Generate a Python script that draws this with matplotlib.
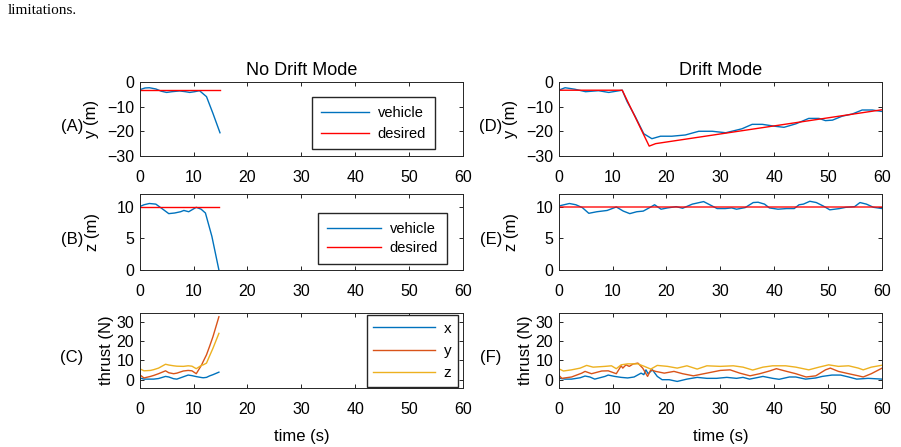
import numpy as np
import matplotlib
matplotlib.use('Agg')
import matplotlib.pyplot as plt

plt.rcParams['font.family'] = ['Liberation Sans', 'DejaVu Sans']
plt.rcParams['font.size'] = 11

c_blue = '#0072BD'
c_red = '#D95319'
c_yel = '#EDB120'

# ---- no drift mode ----
tA = [0, 1.0, 1.8, 3.0, 4.0, 5.0, 6.0, 7.4, 8.5, 9.3, 10.2, 11.1, 12.4, 13.6, 14.9]
yA = [-3.2, -2.5, -2.4, -2.9, -3.8, -4.3, -4.0, -3.7, -4.0, -4.3, -4.0, -3.6, -6.0, -12.8, -20.6]
tA_des = [0, 14.9]
yA_des = [-3.5, -3.5]

tB = [0, 0.8, 1.8, 3.0, 3.9, 5.4, 6.5, 7.6, 8.2, 9.1, 10.5, 11.4, 12.2, 13.4, 14.7]
zB = [10.0, 10.3, 10.5, 10.4, 9.85, 8.9, 9.0, 9.2, 9.4, 9.2, 9.9, 9.6, 9.0, 5.3, 0.0]
tB_des = [0, 14.7]
zB_des = [10.0, 10.0]

tC = [0, 0.8, 2.0, 2.6, 3.5, 4.8, 5.4, 6.3, 6.9, 8.1, 9.0, 9.7, 10.5, 11.5, 11.8, 12.4, 13.0, 13.6, 14.7]
thC_x = [0.9, 0.3, 0.3, 0.3, 0.6, 1.7, 1.4, 0.5, 0.3, 1.5, 2.4, 2.1, 1.6, 1.1, 1.0, 1.2, 2.0, 2.6, 3.9]
thC_y = [2.6, 0.9, 1.7, 2.2, 3.1, 4.6, 3.6, 3.1, 3.4, 4.5, 4.8, 4.6, 3.1, 7.7, 9.5, 12.9, 17.5, 22.3, 32.6]
thC_z = [5.7, 4.6, 4.8, 5.2, 6.0, 8.0, 7.6, 7.2, 7.0, 6.9, 7.2, 7.0, 5.7, 7.5, 7.7, 8.6, 12.5, 16.3, 24.0]

# ---- drift mode ----
tD = [0, 1.2, 3.0, 5.0, 7.4, 9.3, 11.8, 12.7, 14.2, 15.8, 17.3, 18.9, 21.0, 23.5, 26.0, 28.5,
      31.0, 34.0, 35.9, 37.8, 40.2, 41.8, 44.0, 46.4, 48.3, 49.5, 50.8, 52.6, 54.5, 56.3, 58.2, 60.0]
yD = [-3.4, -2.4, -3.0, -4.0, -3.6, -4.3, -3.4, -8.0, -14.0, -21.0, -23.0, -22.0, -22.0, -21.5,
      -20.0, -20.0, -20.6, -19.0, -17.2, -17.2, -18.0, -18.4, -17.0, -14.8, -14.8, -15.7, -15.5,
      -13.9, -13.0, -11.4, -11.4, -12.0]
tD_des = [0, 11.8, 16.8, 18.0, 60.0]
yD_des = [-3.4, -3.4, -26.0, -25.0, -11.3]

tE = [0, 2.0, 3.2, 4.4, 5.6, 7.1, 9.0, 10.7, 12.0, 13.2, 14.5, 15.7, 17.2, 17.8, 19.0, 20.2,
      21.8, 23.0, 24.8, 26.9, 28.5, 29.4, 30.9, 32.1, 33.0, 34.6, 36.1, 37.0, 38.2, 39.1, 40.7,
      42.3, 43.7, 44.6, 45.4, 46.6, 47.8, 49.1, 50.3, 52.1, 53.3, 54.9, 55.9, 57.1, 58.4, 60.0]
zE = [10.1, 10.5, 10.3, 9.85, 8.95, 9.2, 9.4, 9.95, 9.3, 8.9, 9.2, 9.3, 10.0, 10.3, 9.6, 9.8,
      10.0, 9.75, 10.4, 10.8, 10.1, 9.7, 9.7, 9.8, 9.6, 9.85, 10.65, 10.7, 10.4, 9.8, 9.6,
      9.7, 9.7, 10.3, 10.4, 10.85, 10.65, 10.1, 9.5, 9.7, 9.9, 10.0, 10.65, 10.4, 9.9, 9.7]
tE_des = [0, 60]
zE_des = [10.0, 10.0]

tF_x = [0, 1.2, 2.4, 4.0, 4.9, 5.8, 6.7, 8.6, 9.2, 10.4, 11.6, 12.8, 14.0, 15.3, 15.8, 16.2,
        16.6, 17.4, 18.3, 19.2, 20.5, 22.0, 23.8, 25.7, 27.5, 29.3, 31.2, 33.0, 34.2, 35.4,
        36.7, 37.9, 39.7, 40.9, 42.8, 44.0, 45.8, 47.7, 48.9, 50.7, 52.3, 53.8, 55.3, 57.4, 60.0]
thF_x = [0.8, 0.3, 0.3, 1.0, 1.9, 1.4, 0.3, 1.7, 2.4, 1.7, 1.2, 0.9, 1.4, 3.4, 2.6, 5.1,
         3.1, 5.1, 1.7, 0.0, 0.0, -0.9, 0.3, 1.2, 0.7, 0.7, 1.2, 0.7, 1.2, 0.3,
         1.0, 1.7, 0.7, 0.2, 1.4, 1.4, 0.3, 0.9, 1.7, 2.4, 2.4, 1.4, 0.3, 0.7, 0.3]
tF_y = [0, 0.6, 2.4, 4.3, 4.9, 6.1, 8.0, 9.2, 10.7, 11.6, 11.9, 12.5, 13.1, 13.8, 14.7, 15.6,
        16.5, 17.1, 18.0, 19.6, 21.4, 23.0, 25.0, 27.5, 30.0, 31.8, 33.6, 35.5, 37.3, 39.1,
        40.4, 42.3, 44.0, 45.9, 47.7, 49.5, 50.4, 51.9, 53.8, 55.6, 56.5, 58.0, 60.0]
thF_y = [2.4, 0.7, 1.4, 3.4, 4.3, 3.1, 4.5, 4.6, 3.1, 7.2, 6.0, 7.7, 6.9, 8.1, 8.6, 6.0,
         1.7, 5.1, 4.3, 3.4, 4.3, 3.1, 2.0, 3.4, 4.8, 5.1, 3.4, 2.0, 3.1, 4.5,
         5.7, 4.3, 3.1, 1.4, 2.0, 5.1, 6.0, 4.3, 3.1, 2.0, 1.4, 3.1, 6.0]
tF_z = [0, 0.9, 2.4, 4.0, 5.2, 6.4, 8.6, 9.8, 10.7, 11.6, 12.8, 14.7, 15.9, 17.1, 18.3, 20.2,
        22.0, 23.8, 25.7, 27.5, 30.0, 32.4, 34.2, 36.0, 37.9, 39.7, 42.1, 44.0, 46.4, 48.3,
        50.1, 51.9, 53.8, 55.6, 56.5, 58.0, 60.0]
thF_z = [5.7, 4.5, 5.1, 6.0, 7.4, 6.5, 6.9, 7.2, 5.7, 7.7, 8.2, 8.2, 6.9, 5.5, 7.4, 6.9,
         6.0, 7.2, 5.5, 7.2, 6.9, 7.2, 6.5, 5.0, 6.5, 7.2, 7.2, 6.5, 5.1, 6.5,
         7.7, 6.9, 7.2, 6.0, 5.1, 6.5, 7.5]

fig = plt.figure(figsize=(9.01, 4.47), dpi=100)

fig.text(0.009, 0.968, 'limitations.', family=['Liberation Serif', 'DejaVu Serif'], fontsize=11,
         va='baseline')

lefts = [0.155, 0.620]
width = 0.359
rows = [(0.651, 0.166), (0.396, 0.170), (0.132, 0.168)]


def style(ax, ylim, yticks):
    ax.set_xlim(0, 60)
    ax.set_xticks([0, 10, 20, 30, 40, 50, 60])
    ax.set_ylim(*ylim)
    ax.set_yticks(yticks)
    ax.tick_params(direction='in', top=True, right=True, length=3, width=0.6, labelsize=11.5)
    ax.tick_params(axis='x', pad=10)
    ax.tick_params(axis='y', pad=4)
    for s in ax.spines.values():
        s.set_linewidth(0.7)
        s.set_color('#262626')


def box_legend(ax, anchor, hl, ls, fs, bp=0.6):
    ax.legend(loc='upper right', bbox_to_anchor=anchor, fancybox=False, edgecolor='#262626',
              handlelength=hl, handletextpad=0.6, fontsize=fs, framealpha=1,
              borderpad=bp, labelspacing=ls, borderaxespad=0)


axes = {}
for ci, left in enumerate(lefts):
    for ri, (b, h) in enumerate(rows):
        axes[(ri, ci)] = fig.add_axes([left, b, width, h])

# row A / D
ax = axes[(0, 0)]
ax.plot(tA, yA, color=c_blue, lw=1, label='vehicle')
ax.plot(tA_des, yA_des, color='red', lw=1, label='desired')
style(ax, (-30, 0), [-30, -20, -10, 0])
ax.set_title('No Drift Mode', fontsize=13, pad=5)
box_legend(ax, (0.913, 0.79), 3.3, 0.45, 10.5)

ax = axes[(0, 1)]
ax.plot(tD, yD, color=c_blue, lw=1)
ax.plot(tD_des, yD_des, color='red', lw=1)
style(ax, (-30, 0), [-30, -20, -10, 0])
ax.set_title('Drift Mode', fontsize=13, pad=5)

# row B / E
ax = axes[(1, 0)]
ax.plot(tB, zB, color=c_blue, lw=1, label='vehicle')
ax.plot(tB_des, zB_des, color='red', lw=1, label='desired')
style(ax, (0, 12), [0, 5, 10])
box_legend(ax, (0.950, 0.75), 3.7, 0.35, 10.5)

ax = axes[(1, 1)]
ax.plot(tE, zE, color=c_blue, lw=1)
ax.plot(tE_des, zE_des, color='red', lw=1.2, alpha=0.8)
style(ax, (0, 12), [0, 5, 10])

# row C / F
ax = axes[(2, 0)]
ax.plot(tC, thC_x, color=c_blue, lw=1, label='x')
ax.plot(tC, thC_y, color=c_red, lw=1, label='y')
ax.plot(tC, thC_z, color=c_yel, lw=1, label='z')
style(ax, (-4.3, 34.6), [0, 10, 20, 30])
box_legend(ax, (0.985, 0.975), 4.0, 0.55, 11, bp=0.45)

ax = axes[(2, 1)]
ax.plot(tF_x, thF_x, color=c_blue, lw=1)
ax.plot(tF_y, thF_y, color=c_red, lw=1)
ax.plot(tF_z, thF_z, color=c_yel, lw=1)
style(ax, (-4.3, 34.6), [0, 10, 20, 30])

for ci in range(2):
    axes[(0, ci)].set_ylabel('y (m)', fontsize=12, labelpad=6)
    axes[(1, ci)].set_ylabel('z (m)', fontsize=12, labelpad=12)
    axes[(2, ci)].set_ylabel('thrust (N)', fontsize=12, labelpad=2)
    axes[(2, ci)].set_xlabel('time (s)', fontsize=12, labelpad=9)

tags = [['(A)', '(D)'], ['(B)', '(E)'], ['(C)', '(F)']]
for ri in range(3):
    for ci in range(2):
        ax = axes[(ri, ci)]
        ax.text(-0.21, 0.4, tags[ri][ci], transform=ax.transAxes, fontsize=12,
                ha='center', va='center')

fig.savefig('out.png', dpi=100)
